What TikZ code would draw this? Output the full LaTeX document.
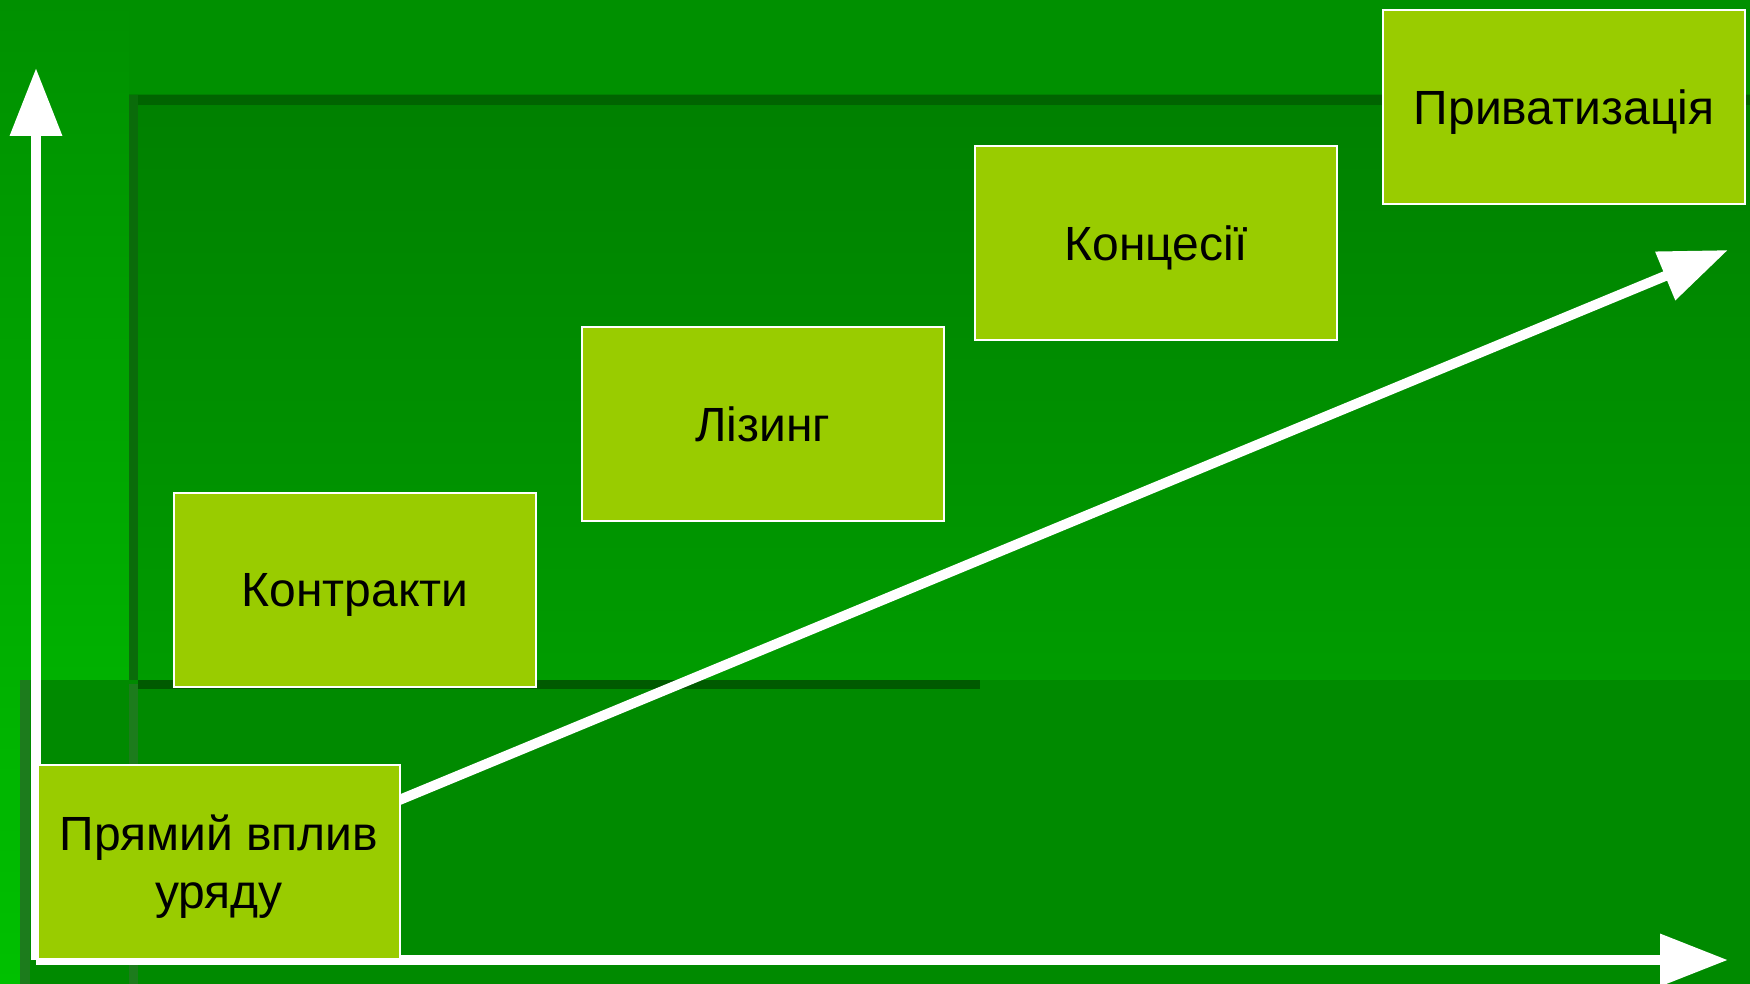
\documentclass[tikz,border=0pt]{standalone}
\usepackage{fontspec}
\setmainfont{Liberation Sans}
\usetikzlibrary{arrows.meta}
\definecolor{bgbase}{HTML}{009000}
\definecolor{leftlight}{HTML}{00C000}
\definecolor{paneltop}{HTML}{008000}
\definecolor{panelbot}{HTML}{009C00}
\definecolor{panelshadow}{HTML}{006400}
\definecolor{leftshadow}{HTML}{0A6C0A}
\definecolor{lowband}{HTML}{008A00}
\definecolor{stripe}{HTML}{1C7C1C}
\definecolor{botshadow}{HTML}{005A00}
\definecolor{boxgreen}{HTML}{99CC00}
\begin{document}
\begin{tikzpicture}[x=1pt,y=-1pt,
  stage/.style={draw=white, line width=2pt, fill=boxgreen, minimum width=362pt,
    minimum height=194pt, inner sep=0pt, anchor=north west,
    font=\fontsize{48}{58}\selectfont, text=black, align=center, text depth=0pt},
  axisline/.style={draw=white, line width=10pt, -{Triangle[length=68pt,width=50pt]}}]
\useasboundingbox (0,0) rectangle (1750,984);
% background
\fill[bgbase] (0,0) rectangle (1750,984);
\shade[top color=bgbase, bottom color=leftlight] (0,0) rectangle (129,984);
\shade[top color=paneltop, bottom color=panelbot] (129,95) rectangle (1750,684);
\fill[panelshadow] (129,95) rectangle (1750,105);
\fill[leftshadow] (129,95) rectangle (138,689);
\fill[lowband] (20,680) rectangle (1750,984);
\fill[stripe] (20,680) rectangle (30,984);
\fill[stripe] (129,684) rectangle (138,984);
\fill[botshadow] (138,680) rectangle (980,689);
% coordinates
\coordinate (origin) at (36,960);
\coordinate (ytip) at (36,68);
\coordinate (xtip) at (1728,960);
\coordinate (dstart) at (380,808);
\coordinate (dtip) at (1728,250);
% arrows
\draw[axisline] (origin) -- (ytip);
\draw[axisline] (origin) -- (xtip);
\draw[axisline] (dstart) -- (dtip);
% boxes
\path (37,764) node[stage] (pv) {Прямий вплив\\уряду};
\path (173,492) node[stage] (k) {Контракти};
\path (581,326) node[stage] (l) {Лізинг};
\path (974,145) node[stage] (c) {Концесії};
\path (1382,9) node[stage] (p) {Приватизація};
\end{tikzpicture}
\end{document}
